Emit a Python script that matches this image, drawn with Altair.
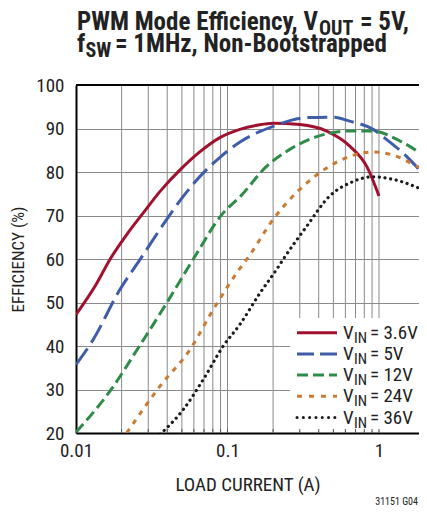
import altair as alt
import pandas as pd

FONT = "Roboto Condensed, Liberation Sans Narrow, DejaVu Sans Condensed, sans-serif"

series_names = ["3.6V", "5V", "12V", "24V", "36V"]
series_colors = ["#A0112F", "#3E5CA8", "#2E8B48", "#C97B36", "#1C1C1C"]

x_36 = [0.01, 0.0135, 0.01675, 0.0215, 0.0278, 0.036, 0.049, 0.065, 0.0891, 0.1207, 0.16, 0.2, 0.3, 0.452, 0.644, 0.83, 1.0]
y_36 = [47.2, 54.0, 59.9, 65.5, 70.6, 75.6, 80.6, 84.5, 87.9, 89.8, 90.8, 91.2, 90.9, 89.4, 85.9, 81.3, 74.5]

x_5 = [0.01, 0.013, 0.0195, 0.0265, 0.0397, 0.05, 0.0692, 0.09, 0.121, 0.2, 0.333, 0.5, 0.64, 0.915, 1.12, 1.52, 2.07]
y_5 = [35.7, 41.5, 53.0, 59.9, 69.1, 74.0, 79.8, 83.5, 86.9, 90.5, 92.5, 92.6, 91.7, 89.8, 87.5, 83.6, 78.5]

x_12 = [0.01, 0.01675, 0.0258, 0.0397, 0.0595, 0.0938, 0.121, 0.181, 0.258, 0.43, 0.61, 0.915, 1.38, 2.07]
y_12 = [20.2, 29.6, 39.6, 49.9, 60.0, 70.6, 74.3, 81.3, 85.2, 88.6, 89.4, 89.4, 87.1, 83.3]

x_24 = [0.0216, 0.0359, 0.0566, 0.0806, 0.115, 0.141, 0.2, 0.3, 0.47, 0.644, 0.915, 1.31, 1.87, 2.07]
y_24 = [20.0, 30.8, 39.2, 48.4, 56.8, 61.0, 69.1, 76.0, 81.3, 83.6, 84.6, 83.6, 81.0, 80.5]

x_36v = [0.0359, 0.0511, 0.0692, 0.0938, 0.121, 0.164, 0.211, 0.233, 0.333, 0.47, 0.644, 0.915, 1.24, 2.07]
y_36v = [19.7, 25.4, 32.3, 40.0, 45.0, 52.2, 57.6, 59.9, 67.5, 74.4, 77.5, 78.9, 78.3, 75.5]

xs = [x_36, x_5, x_12, x_24, x_36v]
ys = [y_36, y_5, y_12, y_24, y_36v]

x_ticks = [0.01, 0.1, 1]
x_grid = [0.02, 0.03, 0.04, 0.05, 0.06, 0.07, 0.08, 0.09, 0.1,
          0.2, 0.3, 0.4, 0.5, 0.6, 0.7, 0.8, 0.9, 1]
y_ticks = [20, 30, 40, 50, 60, 70, 80, 90, 100]

W, H = 343, 348
xscale = alt.Scale(type="log", domain=[0.01, 1.837], nice=False)
yscale = alt.Scale(domain=[20, 100], nice=False)

grid_df = pd.DataFrame({"x": x_grid})
one = pd.DataFrame({"a": [0]})

layers = []

layers.append(
    alt.Chart(grid_df).mark_rule(color="#8a8a8a", strokeWidth=1).encode(
        x=alt.X("x:Q", scale=xscale,
                axis=alt.Axis(values=x_ticks, format="~g", grid=False, ticks=False,
                              labelFlush=False,
                              domainColor="black", domainWidth=2,
                              labelFont=FONT, labelFontSize=19, labelColor="#222",
                              labelPadding=8,
                              title="LOAD CURRENT (A)", titleFont=FONT, titleFontSize=19,
                              titleFontWeight="normal", titleColor="#222",
                              titleBaseline="alphabetic", titleY=57)),
        y=alt.value(0), y2=alt.value(H)
    )
)

dashes = [None, [20, 7], [11, 5], [5, 6], [0.1, 5.6]]
for i, name in enumerate(series_names):
    df = pd.DataFrame({"x": xs[i], "y": ys[i]})
    kw = dict(color=series_colors[i], strokeWidth=3, interpolate="monotone", clip=True)
    if dashes[i] is not None:
        kw["strokeDash"] = dashes[i]
    if i == 4:
        kw["strokeCap"] = "round"
        kw["strokeWidth"] = 3.2
    layers.append(
        alt.Chart(df).mark_line(**kw).encode(
            x=alt.X("x:Q", scale=xscale),
            y=alt.Y("y:Q", scale=yscale,
                    axis=alt.Axis(values=y_ticks, grid=True, gridColor="#8a8a8a",
                                  ticks=False, domainColor="black", domainWidth=2,
                                  labelFont=FONT, labelFontSize=19, labelColor="#222",
                                  labelPadding=12,
                                  title="EFFICIENCY (%)", titleFont=FONT, titleFontSize=17,
                                  titleFontWeight="normal", titleColor="#222",
                                  titleAngle=270, titleX=-58, titleY=H / 2,
                                  titleAlign="center", titleBaseline="middle"))
        )
    )

layers.append(
    alt.Chart(one).mark_rule(color="black", strokeWidth=2).encode(
        x=alt.value(0), x2=alt.value(W), y=alt.value(0)
    )
)

layers.append(
    alt.Chart(one).mark_rect(color="white").encode(
        x=alt.value(214), x2=alt.value(W), y=alt.value(233), y2=alt.value(346)
    )
)
layers.append(
    alt.Chart(grid_df).mark_rule(color="#555", strokeWidth=1).encode(
        x=alt.X("x:Q", scale=xscale), y=alt.value(H - 4), y2=alt.value(H)
    )
)

leg_dash = [None, [17, 6], [11, 5], [5, 7], [0.1, 6.2]]
for i, name in enumerate(series_names):
    yc = 247.7 + 21.2 * i
    kw = dict(color=series_colors[i], strokeWidth=3)
    if leg_dash[i] is not None:
        kw["strokeDash"] = leg_dash[i]
    if i == 4:
        kw["strokeCap"] = "round"
    layers.append(
        alt.Chart(one).mark_rule(**kw).encode(
            x=alt.value(221), x2=alt.value(261), y=alt.value(yc)
        )
    )
    layers.append(
        alt.Chart(one).mark_text(text="V", font=FONT, fontSize=19, align="left",
                                 baseline="middle", color="#222").encode(
            x=alt.value(267), y=alt.value(yc)
        )
    )
    layers.append(
        alt.Chart(one).mark_text(text="IN", font=FONT, fontSize=15, align="left",
                                 baseline="middle", color="#222").encode(
            x=alt.value(278), y=alt.value(yc + 5)
        )
    )
    layers.append(
        alt.Chart(one).mark_text(text="= " + name, font=FONT, fontSize=19, align="left",
                                 baseline="middle", color="#222").encode(
            x=alt.value(294), y=alt.value(yc)
        )
    )


def tx(text, x, y, size, weight="bold", align="left"):
    return alt.Chart(one).mark_text(text=text, font=FONT, fontSize=size, fontWeight=weight,
                                    align=align, baseline="alphabetic", color="#222").encode(
        x=alt.value(x), y=alt.value(y)
    )


layers.append(tx("PWM Mode Efficiency, V", 1, -55, 25))
layers.append(tx("OUT", 243, -50, 20))
layers.append(tx("= 5V,", 284, -55, 25))
layers.append(tx("f", 1, -33, 25))
layers.append(tx("SW", 9.5, -28, 20))
layers.append(tx("= 1MHz, Non-Bootstrapped", 39, -33, 25))
layers.append(tx("31151 G04", 342, 420, 10, weight="normal", align="right"))

chart = alt.layer(*layers).properties(
    width=W, height=H,
    autosize=alt.AutoSizeParams(type="none"),
    padding={"left": 68, "top": 77, "right": 0, "bottom": 73},
).configure_view(stroke=None)

chart.save("out.html", embed_options={"renderer": "svg", "actions": False})
